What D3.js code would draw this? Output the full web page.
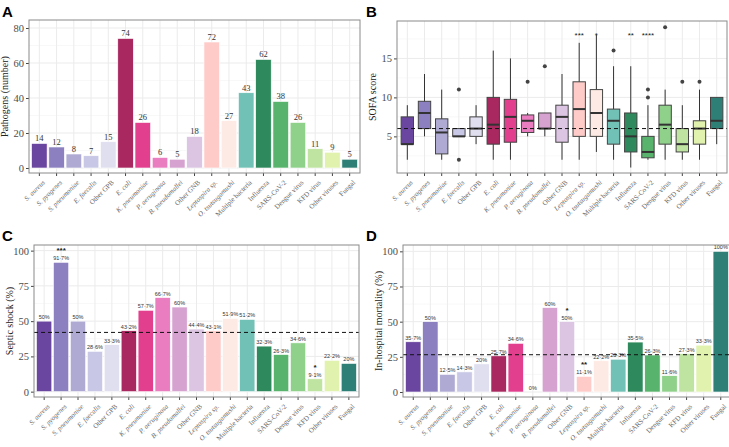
<!DOCTYPE html>
<html>
<head>
<meta charset="utf-8">
<script src="https://cdn.jsdelivr.net/npm/d3@7"></script>
<style>
  body { margin: 0; background: #fff; }
  svg { display: block; }
</style>
</head>
<body>
<div id="chart"></div>
<script>
// categories and colours
const categories = [
	"S. aureus", "S. pyogenes", "S. pneumoniae", "E. faecalis", "Other GPB",
	"E. coli", "K. pneumoniae", "P. aeruginosa", "B. pseudomallei", "Other GNB",
	"Leptospira sp.", "O. tsutsugamushi", "Multiple bacteria", "Influenza",
	"SARS-CoV-2", "Dengue virus", "KFD virus", "Other viruses", "Fungal",
];
const italicCats = [
	"S. aureus", "S. pyogenes", "S. pneumoniae", "E. faecalis", "E. coli",
	"K. pneumoniae", "P. aeruginosa", "B. pseudomallei", "Leptospira sp.", "O. tsutsugamushi",
];
const colours = [
	"#6b46a0", "#8c80c0", "#aeaad4", "#c8c8e6", "#e0dff0",
	"#a8285f", "#e33f8f", "#ea7dc0", "#d6a2d0", "#dcc4e3",
	"#fecbc8", "#feeae4", "#72c1b6", "#2e8a5c", "#58b46c",
	"#8fd08a", "#bfe3a0", "#e0f2ad", "#2e8077",
];

// panel A: number of pathogens
const pathogenCounts = [14, 12, 8, 7, 15, 74, 26, 6, 5, 18, 72, 27, 43, 62, 38, 26, 11, 9, 5];

// panel B: SOFA score boxplots [min, q1, median, q3, max]
const sofaBoxes = [
	[2, 4, 4, 7.5, 9],
	[5, 6, 8, 9.5, 13],
	[2, 2.75, 5.5, 7.25, 11],
	[5, 5, 5, 6, 6],
	[4, 5, 6, 7.5, 9],
	[2, 4, 6.5, 10, 16],
	[2, 4.25, 7.5, 9.75, 15],
	[5, 5.5, 7, 7.75, 8],
	[5, 6, 6, 8, 8],
	[2, 4.25, 7.5, 9, 13],
	[2, 5, 8.5, 12, 17],
	[3, 5, 8, 11, 18],
	[2, 4, 7, 8.5, 14],
	[1, 3, 5, 8, 14],
	[2, 2.25, 3, 5, 9],
	[2, 4, 6.5, 9, 11],
	[2, 3, 4, 6, 9],
	[2, 4, 6, 7, 11],
	[4, 6, 7, 10, 10],
];
const sofaOutliers = [
	[], [], [], [11, 2], [], [], [], [12], [14], [],
	[], [], [16], [], [10, 11], [19], [12], [12], [],
];
const sofaStars = ["", "", "", "", "", "", "", "", "", "", "***", "*", "", "**", "****", "", "", "", ""];
const sofaRef = 6;

// panel C: septic shock (%)
const shockPct = [50, 91.7, 50, 28.6, 33.3, 43.2, 57.7, 66.7, 60, 44.4, 43.1, 51.9, 51.2, 32.3, 26.3, 34.6, 9.1, 22.2, 20];
const shockStars = ["", "***", "", "", "", "", "", "", "", "", "", "", "", "", "", "", "*", "", ""];
const shockRef = 42;

// panel D: in-hospital mortality (%)
const mortalityPct = [35.7, 50, 12.5, 14.3, 20, 25.7, 34.6, 0, 60, 50, 11.1, 22.2, 23.3, 35.5, 26.3, 11.6, 27.3, 33.3, 100];
const mortalityStars = ["", "", "", "", "", "", "", "", "", "*", "**", "", "", "", "", "", "", "", ""];
const mortalityRef = 26.5;

const width = 729, height = 447;
const serif = "'Liberation Serif', 'DejaVu Serif', serif";
const sans = "'Liberation Sans', Arial, sans-serif";

const svg = d3.select("#chart").append("svg")
	.attr("width", width)
	.attr("height", height);

const fmtPct = (v) => d3.format(".1~f")(v).replace(".", "\u00b7") + "%";

function makePanel(box, yDomain, yTicks, yTitle, letter) {
	const g = svg.append("g");
	// ggplot-style discrete axis: 0.6 of a step on each side
	const x = d3.scaleBand()
		.domain(categories)
		.range([box.x0, box.x1])
		.paddingOuter(0.1)
		.paddingInner(0);
	const y = d3.scaleLinear().domain(yDomain).range([box.y1, box.y0]);

	// minor grid
	const minor = [];
	for (let i = 0; i < yTicks.length - 1; i++) minor.push((yTicks[i] + yTicks[i + 1]) / 2);
	const st = yTicks[1] - yTicks[0];
	if (yTicks[0] - st / 2 > yDomain[0]) minor.push(yTicks[0] - st / 2);
	if (yTicks[yTicks.length - 1] + st / 2 < yDomain[1]) minor.push(yTicks[yTicks.length - 1] + st / 2);
	g.selectAll(".minor").data(minor).join("line")
		.attr("x1", box.x0).attr("x2", box.x1)
		.attr("y1", (d) => y(d)).attr("y2", (d) => y(d))
		.attr("stroke", "#f4f4f4").attr("stroke-width", 0.6);
	g.selectAll(".hgrid").data(yTicks).join("line")
		.attr("x1", box.x0).attr("x2", box.x1)
		.attr("y1", (d) => y(d)).attr("y2", (d) => y(d))
		.attr("stroke", "#ebebeb").attr("stroke-width", 1);
	g.selectAll(".vgrid").data(categories).join("line")
		.attr("x1", (d) => x(d) + x.bandwidth() / 2).attr("x2", (d) => x(d) + x.bandwidth() / 2)
		.attr("y1", box.y0).attr("y2", box.y1)
		.attr("stroke", "#ebebeb").attr("stroke-width", 1);

	// axes
	const yAxis = svg.append("g")
		.attr("transform", `translate(${box.x0},0)`)
		.call(d3.axisLeft(y).tickValues(yTicks).tickSize(3).tickPadding(2));
	yAxis.select(".domain").remove();
	yAxis.selectAll("line").attr("stroke", "#444");
	yAxis.selectAll("text")
		.attr("font-family", serif).attr("font-size", 10.5).attr("fill", "#4d4d4d");

	const xAxis = svg.append("g")
		.attr("transform", `translate(0,${box.y1})`)
		.call(d3.axisBottom(x).tickSize(3).tickFormat(""));
	xAxis.select(".domain").remove();
	xAxis.selectAll("line").attr("stroke", "#444");

	svg.append("g").selectAll("text").data(categories).join("text")
		.attr("transform", (d) => `translate(${x(d) + x.bandwidth() / 2 + 3},${box.y1 + 7}) rotate(-45)`)
		.attr("text-anchor", "end")
		.attr("dy", "0.6em")
		.attr("font-family", serif)
		.attr("font-size", 7)
		.attr("font-style", (d) => (italicCats.includes(d) ? "italic" : "normal"))
		.attr("fill", "#666")
		.text((d) => d);

	// y title
	svg.append("text")
		.attr("transform", `translate(${box.x0 - 21},${(box.y0 + box.y1) / 2}) rotate(-90)`)
		.attr("text-anchor", "middle")
		.attr("font-family", serif)
		.attr("font-size", 10)
		.attr("fill", "#222")
		.text(yTitle);

	svg.append("text")
		.attr("x", letter.x).attr("y", letter.y)
		.attr("font-family", sans)
		.attr("font-weight", "bold")
		.attr("font-size", 15)
		.attr("fill", "#000")
		.text(letter.t);

	return { g, x, y, box };
}

function drawBorder(p) {
	svg.append("rect")
		.attr("x", p.box.x0).attr("y", p.box.y0)
		.attr("width", p.box.x1 - p.box.x0).attr("height", p.box.y1 - p.box.y0)
		.attr("fill", "none").attr("stroke", "#8a8a8a").attr("stroke-width", 1);
}

function drawBars(p, values, labelFn, labelFont, labelSize, stars) {
	const bw = p.x.bandwidth() * 0.9;
	const off = (p.x.bandwidth() - bw) / 2;
	p.g.selectAll(".bar").data(values).join("rect")
		.attr("x", (d, i) => p.x(categories[i]) + off)
		.attr("width", bw)
		.attr("y", (d) => p.y(d))
		.attr("height", (d) => p.y(0) - p.y(d))
		.attr("fill", (d, i) => colours[i])
		.attr("stroke", "#fff")
		.attr("stroke-width", 0.6);
	p.g.selectAll(".lab").data(values).join("text")
		.attr("x", (d, i) => p.x(categories[i]) + p.x.bandwidth() / 2)
		.attr("y", (d) => p.y(d) - 2)
		.attr("text-anchor", "middle")
		.attr("font-family", labelFont)
		.attr("font-size", labelSize)
		.attr("fill", "#333")
		.text(labelFn);
	if (stars) {
		// stars sit just above the value label
		p.g.selectAll(".star").data(values).join("text")
			.attr("x", (d, i) => p.x(categories[i]) + p.x.bandwidth() / 2)
			.attr("y", (d) => p.y(d) - 9)
			.attr("text-anchor", "middle")
			.attr("font-family", sans)
			.attr("font-weight", "bold")
			.attr("font-size", 8)
			.attr("fill", "#222")
			.text((d, i) => stars[i]);
	}
}

function drawRef(p, v) {
	p.g.append("line")
		.attr("x1", p.box.x0).attr("x2", p.box.x1)
		.attr("y1", p.y(v)).attr("y2", p.y(v))
		.attr("stroke", "#111")
		.attr("stroke-width", 1)
		.attr("stroke-dasharray", "4,3");
}

// ---- Panel A ----
const pA = makePanel({ x0: 29, x1: 360, y0: 20, y1: 173 }, [-2.86, 84.57], [0, 20, 40, 60, 80],
	"Pathogens (number)", { x: 2, y: 17, t: "A" });
drawBars(pA, pathogenCounts, (d) => d, serif, 8.5, null);
drawBorder(pA);

// ---- Panel B ----
const pB = makePanel({ x0: 397, x1: 727, y0: 21, y1: 173 }, [0.3, 19.8], [5, 10, 15],
	"SOFA score", { x: 366, y: 17, t: "B" });
{
	const bw = pB.x.bandwidth() * 0.72;
	const cx = (i) => pB.x(categories[i]) + pB.x.bandwidth() / 2;
	const boxes = pB.g.selectAll(".box").data(sofaBoxes).join("g");
	boxes.append("line")
		.attr("x1", (d, i) => cx(i)).attr("x2", (d, i) => cx(i))
		.attr("y1", (d) => pB.y(d[0])).attr("y2", (d) => pB.y(d[4]))
		.attr("stroke", "#333").attr("stroke-width", 1);
	boxes.append("rect")
		.attr("x", (d, i) => cx(i) - bw / 2)
		.attr("width", bw)
		.attr("y", (d) => pB.y(d[3]))
		.attr("height", (d) => pB.y(d[1]) - pB.y(d[3]))
		.attr("fill", (d, i) => colours[i])
		.attr("stroke", "#444")
		.attr("stroke-width", 1);
	boxes.append("line")
		.attr("x1", (d, i) => cx(i) - bw / 2).attr("x2", (d, i) => cx(i) + bw / 2)
		.attr("y1", (d) => pB.y(d[2])).attr("y2", (d) => pB.y(d[2]))
		.attr("stroke", "#333").attr("stroke-width", 2);
	const outs = [];
	sofaOutliers.forEach((arr, i) => arr.forEach((v) => outs.push({ i, v })));
	pB.g.selectAll(".out").data(outs).join("circle")
		.attr("cx", (d) => cx(d.i)).attr("cy", (d) => pB.y(d.v))
		.attr("r", 2).attr("fill", "#444");
	drawRef(pB, sofaRef);
	pB.g.selectAll(".star").data(sofaStars).join("text")
		.attr("x", (d, i) => cx(i)).attr("y", pB.y(17.6))
		.attr("text-anchor", "middle")
		.attr("font-family", sans)
		.attr("font-size", 8)
		.attr("fill", "#222")
		.text((d) => d);
}
drawBorder(pB);

// ---- Panel C ----
const pC = makePanel({ x0: 34, x1: 359, y0: 245, y1: 397 }, [-3.8, 104], [0, 25, 50, 75, 100],
	"Septic shock (%)", { x: 2, y: 241, t: "C" });
drawBars(pC, shockPct, fmtPct, sans, 5.5, shockStars);
drawRef(pC, shockRef);
drawBorder(pC);

// ---- Panel D ----
const pD = makePanel({ x0: 403, x1: 731, y0: 245, y1: 397 }, [-3.55, 104.5], [0, 25, 50, 75, 100],
	"In-hospital mortality (%)", { x: 366, y: 241, t: "D" });
drawBars(pD, mortalityPct, fmtPct, sans, 5.5, mortalityStars);
drawRef(pD, mortalityRef);
drawBorder(pD);
</script>
</body>
</html>
